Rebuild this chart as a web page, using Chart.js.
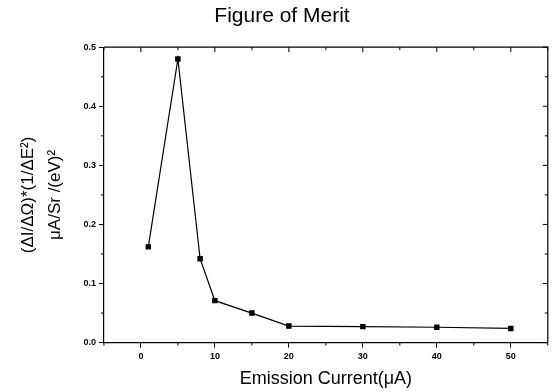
<!DOCTYPE html>
<html>
<head>
<meta charset="utf-8">
<script src="https://cdn.jsdelivr.net/npm/chart.js@4"></script>
<style>
  html, body { margin: 0; padding: 0; background: #fff; }
  #wrap { width: 553px; height: 392px; }
</style>
</head>
<body>
<div id="wrap"><canvas id="fom"></canvas></div>
<script>
// values
const current = [1, 5, 8, 10, 15, 20, 30, 40, 50];
const merit = [0.162, 0.48, 0.142, 0.071, 0.05, 0.028, 0.027, 0.026, 0.024];
const xTicks = [0, 10, 20, 30, 40, 50];
const yTicks = [0, 0.1, 0.2, 0.3, 0.4, 0.5];
const xMinor = [-5, 5, 15, 25, 35, 45, 55];
const yMinor = [0.05, 0.15, 0.25, 0.35, 0.45];

const font = 'Liberation Sans, Arial, sans-serif';

// frame on top/right, inward mirror ticks and minor ticks
const framePlugin = {
    id: 'frame',
    afterDraw(chart) {
        const ctx = chart.ctx;
        const a = chart.chartArea;
        const x = chart.scales.x;
        const y = chart.scales.y;
        ctx.save();
        ctx.strokeStyle = '#000';
        ctx.lineWidth = 1.2;
        ctx.beginPath();
        ctx.moveTo(a.left, a.top);
        ctx.lineTo(a.right, a.top);
        ctx.lineTo(a.right, a.bottom);
        ctx.stroke();
        ctx.lineWidth = 1;
        ctx.beginPath();
        xTicks.forEach(v => {
            const px = x.getPixelForValue(v);
            ctx.moveTo(px, a.top);
            ctx.lineTo(px, a.top + 5);
        });
        xMinor.forEach(v => {
            const px = x.getPixelForValue(v);
            ctx.moveTo(px, a.bottom);
            ctx.lineTo(px, a.bottom + 3);
            ctx.moveTo(px, a.top);
            ctx.lineTo(px, a.top + 3);
        });
        yTicks.forEach(v => {
            const py = y.getPixelForValue(v);
            ctx.moveTo(a.right, py);
            ctx.lineTo(a.right - 5, py);
        });
        yMinor.forEach(v => {
            const py = y.getPixelForValue(v);
            ctx.moveTo(a.left, py);
            ctx.lineTo(a.left - 3, py);
            ctx.moveTo(a.right, py);
            ctx.lineTo(a.right - 3, py);
        });
        ctx.stroke();
        ctx.restore();
    }
};

new Chart(document.querySelector('#fom'), {
    type: 'line',
    data: {
        datasets: [{
            data: current.map((c, i) => ({ x: c, y: merit[i] })),
            borderColor: '#000',
            backgroundColor: '#000',
            borderWidth: 1.2,
            pointStyle: 'rect',
            pointRadius: 3,
            tension: 0
        }]
    },
    options: {
        responsive: true,
        maintainAspectRatio: false,
        animation: false,
        layout: { padding: { top: 4, right: 4, left: 15, bottom: 2 } },
        plugins: {
            legend: { display: false },
            tooltip: { enabled: false },
            title: {
                display: true,
                text: 'Figure of Merit',
                color: '#000',
                font: { family: font, size: 21, weight: 'normal' },
                padding: { top: 0, bottom: 18 }
            }
        },
        scales: {
            x: {
                type: 'linear',
                min: -5,
                max: 55,
                afterBuildTicks: s => { s.ticks = xTicks.map(v => ({ value: v })); },
                ticks: {
                    color: '#000',
                    font: { family: font, size: 9, weight: 'bold' },
                    padding: 4
                },
                grid: { drawOnChartArea: false, drawTicks: true, tickLength: 5, color: '#000' },
                border: { color: '#000', width: 1.2 },
                title: {
                    display: true,
                    text: 'Emission Current(\u03bcA)',
                    color: '#000',
                    font: { family: font, size: 18 },
                    padding: { top: 2, bottom: 0 }
                }
            },
            y: {
                type: 'linear',
                min: 0,
                max: 0.5,
                afterBuildTicks: s => { s.ticks = yTicks.map(v => ({ value: v })); },
                ticks: {
                    color: '#000',
                    font: { family: font, size: 9, weight: 'bold' },
                    padding: 3,
                    callback: v => v.toFixed(1)
                },
                grid: { drawOnChartArea: false, drawTicks: true, tickLength: 5, color: '#000' },
                border: { color: '#000', width: 1.2 },
                title: {
                    display: true,
                    text: ['(\u0394I/\u0394\u03a9)*(1/\u0394E\u00b2)', '\u03bcA/Sr /(eV)\u00b2'],
                    color: '#000',
                    font: { family: font, size: 17, lineHeight: 1.6 },
                    padding: { top: 0, bottom: 11 }
                }
            }
        }
    },
    plugins: [framePlugin]
});
</script>
</body>
</html>
